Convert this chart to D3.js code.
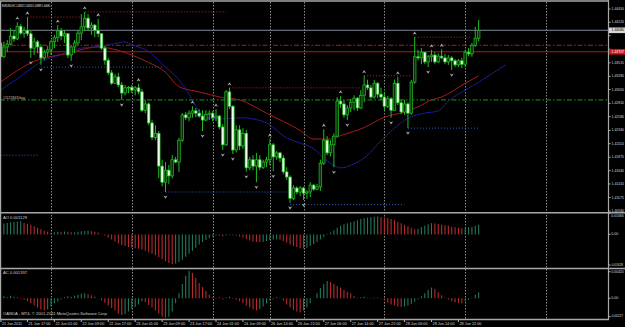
<!DOCTYPE html>
<html><head><meta charset="utf-8">
<script src="https://cdn.jsdelivr.net/npm/d3@7"></script>
<style>html,body{margin:0;padding:0;background:#000;overflow:hidden}svg{display:block}</style>
</head><body><svg id="c" width="625" height="327"></svg>
<script>
// ---------- DATA ----------
const symbolTitle = "EURUSD,H1  1.43942 1.44263 1.43889 1.44080";
const openP = [1.4386,1.4362,1.4379,1.4384,1.4398,1.4393,1.4415,1.4403,1.4408,1.4402,
1.4377,1.4388,1.4379,1.4360,1.4370,1.4374,1.4388,1.4395,1.4407,1.4398,
1.4402,1.4365,1.4379,1.4386,1.4403,1.4414,1.4429,1.4412,1.4417,1.4408,
1.4402,1.4377,1.4356,1.4334,1.4316,1.4327,1.4313,1.4299,1.4308,1.4309,
1.4304,1.4308,1.4301,1.4269,1.4280,1.4247,1.4222,1.4229,1.4172,1.4144,
1.4165,1.4155,1.4183,1.4179,1.4217,1.4261,1.4256,1.4264,1.4268,1.4264,
1.4259,1.4252,1.4262,1.4264,1.4256,1.4259,1.4240,1.4209,1.4301,1.4276,
1.4200,1.4235,1.4207,1.4229,1.4169,1.4183,1.4172,1.4183,1.4170,1.4179,
1.4183,1.4209,1.4188,1.4195,1.4186,1.4162,1.4153,1.4116,1.4134,1.4127,
1.4134,1.4125,1.4127,1.4139,1.4132,1.4136,1.4177,1.4217,1.4195,1.4209,
1.4224,1.4285,1.4280,1.4261,1.4273,1.4283,1.4290,1.4273,1.4295,1.4313,
1.4308,1.4292,1.4316,1.4297,1.4292,1.4276,1.4289,1.4269,1.4316,1.4282,
1.4266,1.4280,1.4264,1.4318,1.4362,1.4360,1.4370,1.4353,1.4362,1.4365,
1.4353,1.4363,1.4360,1.4353,1.4360,1.4355,1.4348,1.4355,1.4349,1.4370,
1.4367,1.4382,1.43942];
const highP = [1.4391,1.4388,1.4391,1.4412,1.4408,1.4422,1.4419,1.4414,1.4431,1.4407,
1.4395,1.4391,1.4384,1.4374,1.4381,1.4391,1.4400,1.4417,1.4412,1.4408,
1.4403,1.4382,1.4391,1.4408,1.4436,1.4440,1.4436,1.4422,1.4419,1.4428,
1.4403,1.4381,1.4360,1.4339,1.4332,1.4334,1.4318,1.4313,1.4311,1.4313,
1.4311,1.4315,1.4306,1.4287,1.4283,1.4252,1.4243,1.4233,1.4183,1.4179,
1.4174,1.4191,1.4188,1.4221,1.4264,1.4266,1.4269,1.4276,1.4273,1.4271,
1.4269,1.4269,1.4269,1.4268,1.4271,1.4261,1.4245,1.4304,1.4308,1.4278,
1.4243,1.4243,1.4238,1.4235,1.4188,1.4191,1.4195,1.4191,1.4183,1.4188,
1.4219,1.4212,1.4198,1.4196,1.4191,1.4170,1.4156,1.4139,1.4137,1.4137,
1.4136,1.4130,1.4144,1.4141,1.4141,1.4183,1.4236,1.4224,1.4217,1.4229,
1.4292,1.4294,1.4287,1.4278,1.4289,1.4295,1.4292,1.4304,1.4329,1.4322,
1.4313,1.4322,1.4318,1.4308,1.4301,1.4294,1.4292,1.4322,1.4327,1.4287,
1.4287,1.4283,1.4322,1.4396,1.4374,1.4377,1.4370,1.4365,1.4374,1.4370,
1.4368,1.4375,1.4367,1.4365,1.4363,1.4358,1.4358,1.4360,1.4374,1.4377,
1.4386,1.4414,1.44263];
const lowP = [1.4360,1.4360,1.4370,1.4382,1.4388,1.4391,1.4400,1.4395,1.4398,1.4360,
1.4365,1.4368,1.4348,1.4356,1.4362,1.4365,1.4377,1.4388,1.4391,1.4386,
1.4360,1.4355,1.4368,1.4382,1.4391,1.4408,1.4408,1.4400,1.4396,1.4396,
1.4374,1.4348,1.4330,1.4313,1.4315,1.4309,1.4287,1.4295,1.4299,1.4299,
1.4295,1.4297,1.4266,1.4264,1.4243,1.4217,1.4217,1.4151,1.4137,1.4127,
1.4141,1.4151,1.4177,1.4162,1.4214,1.4252,1.4250,1.4256,1.4257,1.4256,
1.4233,1.4250,1.4252,1.4250,1.4250,1.4236,1.4200,1.4207,1.4271,1.4193,
1.4196,1.4200,1.4202,1.4162,1.4165,1.4165,1.4144,1.4165,1.4167,1.4170,
1.4174,1.4163,1.4183,1.4179,1.4158,1.4148,1.4108,1.4113,1.4123,1.4120,
1.4113,1.4115,1.4118,1.4129,1.4130,1.4129,1.4174,1.4191,1.4189,1.4170,
1.4222,1.4273,1.4256,1.4252,1.4266,1.4269,1.4268,1.4271,1.4283,1.4304,
1.4289,1.4289,1.4290,1.4287,1.4269,1.4273,1.4256,1.4268,1.4278,1.4262,
1.4261,1.4238,1.4261,1.4315,1.4356,1.4349,1.4349,1.4344,1.4353,1.4349,
1.4351,1.4358,1.4349,1.4348,1.4339,1.4344,1.4344,1.4342,1.4344,1.4363,
1.4362,1.4379,1.43889];
const closeP = [1.4362,1.4379,1.4384,1.4398,1.4393,1.4415,1.4403,1.4408,1.4402,1.4377,
1.4388,1.4379,1.4360,1.4370,1.4374,1.4388,1.4395,1.4407,1.4398,1.4402,
1.4365,1.4379,1.4386,1.4403,1.4414,1.4429,1.4412,1.4417,1.4408,1.4402,
1.4377,1.4356,1.4334,1.4316,1.4327,1.4313,1.4299,1.4308,1.4309,1.4304,
1.4308,1.4301,1.4269,1.4280,1.4247,1.4222,1.4229,1.4172,1.4144,1.4165,
1.4155,1.4183,1.4179,1.4217,1.4261,1.4256,1.4264,1.4268,1.4264,1.4259,
1.4252,1.4262,1.4264,1.4256,1.4259,1.4240,1.4209,1.4301,1.4276,1.4200,
1.4235,1.4207,1.4229,1.4169,1.4183,1.4172,1.4183,1.4170,1.4179,1.4183,
1.4209,1.4188,1.4195,1.4186,1.4162,1.4153,1.4116,1.4134,1.4127,1.4134,
1.4125,1.4127,1.4139,1.4132,1.4136,1.4177,1.4217,1.4195,1.4209,1.4224,
1.4285,1.4280,1.4261,1.4273,1.4283,1.4290,1.4273,1.4295,1.4313,1.4308,
1.4292,1.4316,1.4297,1.4292,1.4276,1.4289,1.4269,1.4316,1.4282,1.4266,
1.4280,1.4264,1.4318,1.4362,1.4360,1.4370,1.4353,1.4362,1.4365,1.4353,
1.4363,1.4360,1.4353,1.4360,1.4355,1.4348,1.4355,1.4349,1.4370,1.4367,
1.4382,1.43942,1.44080];

const fractalUp = [5,8,17,25,29,41,57,64,68,80,96,101,108,118,123,128,131];
const fractalDown = [9,12,21,36,49,60,66,69,73,76,81,86,90,99,103,116,121,127,134];

const maRedBars = [0,10,20,29,35,39,44,49,53,59,66,71,79,89,93,98,101,108,114,120,124,128,131,138,142];
const maRedVals = [1.4318,1.4354,1.4368,1.4379,1.4373,1.4365,1.4352,1.4335,1.4310,1.4301,1.4291,1.4287,1.4264,1.4234,1.4219,1.4219,1.4225,1.4239,1.4257,1.4266,1.4275,1.4287,1.4292,1.4316,1.4329];
const maBlueBars = [0,6,12,18,24,30,35,37,39,44,49,53,56,58,61,65,72,75,79,85,89,93,96,99,101,106,108,113,117,121,126,130,133,138,142,150];
const maBlueVals = [1.4304,1.4328,1.4353,1.4366,1.4377,1.4380,1.4386,1.4388,1.4383,1.4371,1.4344,1.4322,1.4297,1.4276,1.4256,1.4254,1.4256,1.4254,1.4247,1.4221,1.4212,1.4202,1.4186,1.4173,1.4169,1.4179,1.4186,1.4216,1.4238,1.4255,1.4264,1.4268,1.4285,1.4304,1.4318,1.4348];

const resLevels = [1.4431,1.4440,1.4308,1.4329,1.4396];
const resFrom = [8,25,68,108,123];
const resTo = [24,67,107,122,140];
const supLevels = [1.4191,1.4344,1.4127,1.4105,1.4238];
const supFrom = [0,12,49,86,121];
const supTo = [11,48,86,120,142];

const bidPrice = 1.44080;
const redSolidPrice = 1.43707;
const redDashDotPrice = 1.4382;
const orderPrice = 1.4287;
const orderLabel = "#1172843 buy";

const aoVals = [0.0050,0.0054,0.00565,0.0059,0.0061,0.0063,0.0064,0.00575,0.00525,0.00475,
0.0040,0.00325,0.0025,0.00175,0.00125,0.00075,0.0010,0.00125,0.0011,0.0014,
0.00125,0.0010,0.0011,0.0013,0.0015,0.0017,0.00175,0.0016,0.00125,0.0009,
0.00025,-0.0005,-0.0015,-0.0025,-0.0035,-0.0045,-0.00525,-0.00575,-0.00625,-0.0065,
-0.00675,-0.0070,-0.0075,-0.0080,-0.00875,-0.0095,-0.01025,-0.01125,-0.01225,-0.01325,
-0.0140,-0.0145,-0.01425,-0.0135,-0.0125,-0.0110,-0.0095,-0.0080,-0.0065,-0.0050,
-0.00375,-0.00275,-0.00175,-0.0010,-0.0005,-0.00065,-0.0009,-0.0005,-0.00025,-0.0004,
-0.0006,-0.0010,-0.0015,-0.00225,-0.0030,-0.0035,-0.00375,-0.0039,-0.00365,-0.00325,
-0.00275,-0.0025,-0.0024,-0.0026,-0.00325,-0.0040,-0.0050,-0.00575,-0.00625,-0.00675,
-0.0069,-0.0065,-0.00575,-0.00475,-0.00375,-0.0025,-0.00125,0.00015,0.0010,0.0020,
0.00325,0.00425,0.0050,0.0055,0.0060,0.0065,0.0070,0.0075,0.0080,0.00825,
0.0085,0.00865,0.00875,0.0085,0.00825,0.0080,0.0075,0.0070,0.00625,0.0055,
0.00475,0.0040,0.00325,0.0025,0.00275,0.0035,0.00425,0.0050,0.0055,0.0054,
0.0051,0.00475,0.0045,0.00425,0.00375,0.0035,0.00325,0.0030,0.00315,0.0035,
0.00375,0.00425,0.00475];
const acVals = [0.000225,0.0003,0.00015,0.000375,0.000225,0.00015,-0.000075,-0.000225,-0.00045,-0.00075,
-0.00105,-0.00135,-0.00165,-0.0018,-0.00165,-0.0012,-0.00075,-0.00045,-0.00015,0.00015,
0.0003,0.000225,0.000375,0.000525,0.000675,0.00072,0.0006,0.00045,0.000225,0,
-0.0003,-0.000675,-0.00105,-0.001425,-0.0018,-0.00225,-0.002475,-0.002325,-0.00195,-0.001575,
-0.001275,-0.0009,-0.00045,-0.0006,-0.000975,-0.00135,-0.0018,-0.00225,-0.0027,-0.00285,
-0.0027,-0.00195,-0.00075,0.00075,0.0021,0.0033,0.00405,0.00375,0.003,0.00225,
0.00165,0.00105,0.000525,0.00015,-0.000075,0.00015,-0.00015,0.00012,0.000225,-0.000075,
-0.000225,-0.00045,-0.00075,-0.00105,-0.00135,-0.00165,-0.0018,-0.001575,-0.0012,-0.00075,
-0.0003,-0.00015,0.00015,0.000075,-0.000375,-0.0009,-0.00135,-0.001725,-0.00195,-0.0021,
-0.0018,-0.00135,-0.00075,0,0.00075,0.0015,0.0021,0.00255,0.0024,0.0021,
0.0018,0.001575,0.0012,0.000975,0.00075,0.0003,0.000075,0.00015,0.000225,0.000075,
-0.000075,0.000075,0.00012,-0.000075,-0.0003,-0.000675,-0.0009,-0.00105,-0.0012,-0.001275,
-0.0012,-0.00105,-0.000825,-0.000525,-0.00015,0.0003,0.00075,0.0012,0.001575,0.00135,
0.0009,0.00045,0.000075,-0.000225,-0.00045,-0.0006,-0.000675,-0.00075,-0.00045,-0.000225,
0.000075,0.000525,0.0009];

const aoTitle = "AO 0.001129";
const acTitle = "AC 0.001337";
const aoTickLabels = ["0.01066","0.00","-0.01628"];
const aoTickVals = [0.0104,0,-0.0150];
const acTickLabels = ["0.00420","0.00","-0.00227"];
const acTickVals = [0.0039,0,-0.0027];
const footer = "OANDA - MT4, \u00a9 2001-2011 MetaQuotes Software Corp.";

const priceTicks = [1.44450,1.44220,1.43985,1.43750,1.43515,1.43280,1.43050,1.42810,1.42580,1.42340,1.42110,1.41875,1.41640,1.41410,1.41175,1.40940];
const timeLabels = ["21 Jun 2011","21 Jun 17:00","22 Jun 01:00","22 Jun 09:00","22 Jun 17:00","23 Jun 01:00","23 Jun 09:00","23 Jun 17:00","24 Jun 01:00","24 Jun 09:00","26 Jun 14:00","26 Jun 22:00","27 Jun 06:00","27 Jun 14:00","27 Jun 22:00","28 Jun 06:00","28 Jun 14:00","28 Jun 22:00"];
const timeLabelBars = [0,8,16,24,32,40,48,56,64,72,80,88,96,104,112,120,128,136];
const separatorBars = [15,39,63,80,90,114,138,162];

// ---------- DRAW ----------
const svg = d3.select('#c');
svg.append('rect').attr('width',625).attr('height',327).attr('fill','#000');

const x = d3.scaleLinear().domain([0,162]).range([0.5,546]);
const y = d3.scaleLinear().domain([1.40940,1.44450]).range([211,9]);
const yAO = d3.scaleLinear().domain([-0.0165,0.0105]).range([268,213]);
const yAC = d3.scaleLinear().domain([-0.0029,0.0043]).range([318,269]);

const FONT = "'Liberation Sans', Arial, sans-serif";
function txt(g, px, py, s, size, color, len){
  const t = g.append('text').attr('transform',`translate(${px},${py}) scale(0.5)`)
    .attr('font-family',FONT).attr('font-size',size*2).attr('fill',color)
    .attr('dominant-baseline','middle').text(s);
  if(len) t.attr('textLength',len*2).attr('lengthAdjust','spacingAndGlyphs');
  return t;
}

const defs = svg.append('defs');
defs.append('clipPath').attr('id','cm').append('rect').attr('x',0).attr('y',2).attr('width',608).attr('height',210);
defs.append('clipPath').attr('id','ca').append('rect').attr('x',0).attr('y',213).attr('width',608).attr('height',55);
defs.append('clipPath').attr('id','cc').append('rect').attr('x',0).attr('y',269).attr('width',608).attr('height',50);

// period separators
const sep = svg.append('g');
separatorBars.forEach(b=>{
  sep.append('line').attr('x1',Math.round(x(b))+0.5).attr('x2',Math.round(x(b))+0.5).attr('y1',2).attr('y2',319)
    .attr('stroke','#8a8a8a').attr('stroke-width',1).attr('stroke-dasharray','1.5,1.5');
});

const main = svg.append('g').attr('clip-path','url(#cm)');

// horizontal level lines
main.append('line').attr('x1',0).attr('x2',608).attr('y1',y(bidPrice)).attr('y2',y(bidPrice)).attr('stroke','#7d8794').attr('stroke-width',1);
main.append('line').attr('x1',0).attr('x2',608).attr('y1',y(redDashDotPrice)).attr('y2',y(redDashDotPrice)).attr('stroke','#b01c1c').attr('stroke-width',1).attr('stroke-dasharray','5,2,1.5,2');
main.append('line').attr('x1',0).attr('x2',608).attr('y1',y(redSolidPrice)).attr('y2',y(redSolidPrice)).attr('stroke','#c41212').attr('stroke-width',1);
main.append('line').attr('x1',0).attr('x2',608).attr('y1',y(orderPrice)).attr('y2',y(orderPrice)).attr('stroke','#12a012').attr('stroke-width',1).attr('stroke-dasharray','5,2,1.5,2');

resLevels.forEach((p,k)=>{
  main.append('line').attr('x1',x(resFrom[k])).attr('x2',x(resTo[k])).attr('y1',y(p)).attr('y2',y(p))
    .attr('stroke','#c02020').attr('stroke-width',1).attr('stroke-dasharray','1,2');
});
supLevels.forEach((p,k)=>{
  main.append('line').attr('x1',x(supFrom[k])).attr('x2',x(supTo[k])).attr('y1',y(p)).attr('y2',y(p))
    .attr('stroke','#2a5cd0').attr('stroke-width',1).attr('stroke-dasharray','1,2');
});

// moving averages
const line = d3.line().x(d=>x(d[0])).y(d=>y(d[1])).curve(d3.curveMonotoneX);
main.append('path').attr('d',line(maRedBars.map((b,k)=>[b,maRedVals[k]]))).attr('fill','none').attr('stroke','#a81a1a').attr('stroke-width',1);
main.append('path').attr('d',line(maBlueBars.map((b,k)=>[b,maBlueVals[k]]))).attr('fill','none').attr('stroke','#2424c0').attr('stroke-width',1).attr('stroke-dasharray','2,0.6');

// candles
const cg = main.append('g');
closeP.forEach((c,i)=>{
  const o = openP[i], cx = x(i);
  cg.append('line').attr('x1',cx).attr('x2',cx).attr('y1',y(highP[i])).attr('y2',y(lowP[i])).attr('stroke','#1fbf1f').attr('stroke-width',1);
  const top = y(Math.max(o,c)), bot = y(Math.min(o,c));
  const bull = c >= o;
  cg.append('rect').attr('x',cx-1.3).attr('y',top).attr('width',2.6).attr('height',Math.max(0.8,bot-top))
    .attr('fill', bull ? '#0a300a' : '#eaffea').attr('stroke','#22c022').attr('stroke-width',0.7);
});

// fractals
const fg = main.append('g').attr('fill','#a9a9a9');
fractalUp.forEach(i=>{
  const cx = x(i), cy = y(highP[i]) - 4;
  fg.append('path').attr('d',`M${cx-2},${cy+1.6}L${cx},${cy-1.7}L${cx+2},${cy+1.6}L${cx},${cy+0.6}Z`);
});
fractalDown.forEach(i=>{
  const cx = x(i), cy = y(lowP[i]) + 5;
  fg.append('path').attr('d',`M${cx-2},${cy-1.6}L${cx},${cy+1.7}L${cx+2},${cy-1.6}L${cx},${cy-0.6}Z`);
});

// titles in main
txt(svg, 2, 5.5, symbolTitle, 4.3, '#e8e8e8', 48);
txt(svg, 3, y(orderPrice)-2.3, orderLabel, 4.3, '#c8c8c8', 22);

// AO histogram
const ao = svg.append('g').attr('clip-path','url(#ca)');
aoVals.forEach((v,i)=>{
  const up = i===0 ? true : v > aoVals[i-1];
  ao.append('line').attr('x1',x(i)).attr('x2',x(i)).attr('y1',yAO(0)).attr('y2',yAO(v))
    .attr('stroke', up ? '#21795a' : '#b82a2a').attr('stroke-width',1.1);
});
txt(svg, 3, 217.5, aoTitle, 4.3, '#d0d0d0', 24);

// AC histogram
const ac = svg.append('g').attr('clip-path','url(#cc)');
acVals.forEach((v,i)=>{
  const up = i===0 ? true : v > acVals[i-1];
  ac.append('line').attr('x1',x(i)).attr('x2',x(i)).attr('y1',yAC(0)).attr('y2',yAC(v))
    .attr('stroke', up ? '#21795a' : '#b82a2a').attr('stroke-width',1.1);
});
txt(svg, 3, 272.5, acTitle, 4.3, '#d0d0d0', 24);
txt(svg, 3, 313.5, footer, 4.3, '#d0d0d0', 105);

// frames
const fr = svg.append('g').attr('stroke','#a8a8a8').attr('fill','none');
fr.append('line').attr('x1',0).attr('x2',609).attr('y1',1).attr('y2',1).attr('stroke-width',1.5);
fr.append('line').attr('x1',0.6).attr('x2',0.6).attr('y1',1).attr('y2',320).attr('stroke-width',1.2);
fr.append('line').attr('x1',0).attr('x2',625).attr('y1',212.7).attr('y2',212.7).attr('stroke-width',1.6);
fr.append('line').attr('x1',0).attr('x2',625).attr('y1',268.5).attr('y2',268.5).attr('stroke-width',1.6);
fr.append('line').attr('x1',0).attr('x2',609).attr('y1',319.5).attr('y2',319.5).attr('stroke-width',1.5);
fr.append('line').attr('x1',608.5).attr('x2',608.5).attr('y1',0).attr('y2',320).attr('stroke-width',1.2);

// price axis
const pa = svg.append('g');
priceTicks.forEach(p=>{
  pa.append('line').attr('x1',608).attr('x2',610.5).attr('y1',y(p)).attr('y2',y(p)).attr('stroke','#b0b0b0');
  // labels hidden under the price boxes are not shown (as in the reference)
  if (Math.abs(y(p)-y(redSolidPrice)) < 5.5 || Math.abs(y(p)-y(bidPrice)) < 5.5) return;
  txt(pa, 611.5, y(p), p.toFixed(5), 4, '#d8d8d8', 12.5);
});
// bid box
pa.append('rect').attr('x',609).attr('y',y(bidPrice)-2.8).attr('width',16).attr('height',5.6).attr('fill','#d8d8d8');
txt(pa, 611.5, y(bidPrice), bidPrice.toFixed(5), 4, '#000', 12.5);
pa.append('rect').attr('x',609).attr('y',y(redSolidPrice)-2.8).attr('width',16).attr('height',5.6).attr('fill','#e01010');
txt(pa, 611.5, y(redSolidPrice), redSolidPrice.toFixed(5), 4, '#fff', 12.5);

// AO / AC axes
function subLabel(px, py, s){
  if (s.length > 7) txt(pa, 610.6, py, s, 3.15, '#d8d8d8');       // long negative labels: smaller so they fit
  else if (s.length > 5) txt(pa, 611.2, py, s, 4, '#d8d8d8', 12.5);
  else txt(pa, 611.2, py, s, 4, '#d8d8d8', 7);
}
aoTickVals.forEach((v,k)=>{
  pa.append('line').attr('x1',608).attr('x2',610.5).attr('y1',yAO(v)).attr('y2',yAO(v)).attr('stroke','#b0b0b0');
  subLabel(611.2, k===0?216:(k===2?265.5:yAO(v)), aoTickLabels[k]);
});
acTickVals.forEach((v,k)=>{
  pa.append('line').attr('x1',608).attr('x2',610.5).attr('y1',yAC(v)).attr('y2',yAC(v)).attr('stroke','#b0b0b0');
  subLabel(611.2, k===0?272:(k===2?316.3:yAC(v)), acTickLabels[k]);
});

// time axis
const ta = svg.append('g');
timeLabelBars.forEach((b,k)=>{
  const px = k===0 ? 1 : x(b);
  ta.append('line').attr('x1',px).attr('x2',px).attr('y1',319.5).attr('y2',322).attr('stroke','#b0b0b0');
  txt(ta, px+1, 323.6, timeLabels[k], 4, '#d8d8d8', k===0?20:22);
});
</script>
</body></html>
